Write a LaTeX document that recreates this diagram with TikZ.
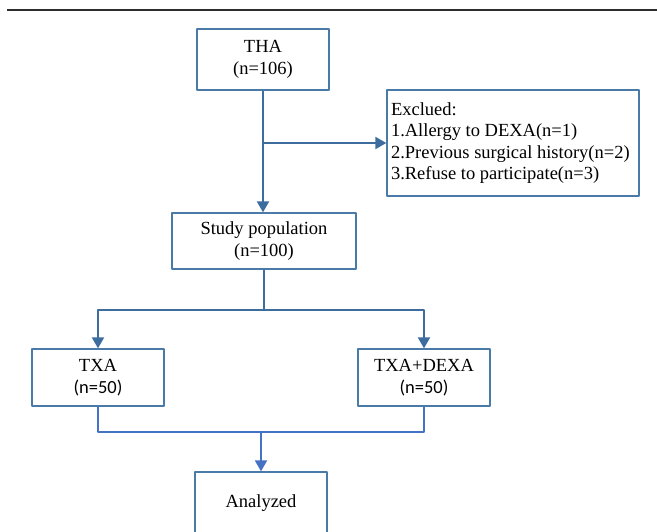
\documentclass[tikz,border=0pt]{standalone}
\usepackage{fontspec}
\setmainfont{Liberation Serif}
\newfontfamily\carl{Carlito}
\usetikzlibrary{arrows.meta,positioning,calc}
\definecolor{boxblue}{RGB}{74,122,168}
\definecolor{lineblue}{RGB}{61,109,158}
\definecolor{lowblue}{RGB}{68,114,196}
\definecolor{rulegray}{RGB}{45,45,45}

\begin{document}
\begin{tikzpicture}[x=1pt,y=-1pt,>={Triangle[width=12pt,length=11pt]},line join=bevel,
  font=\fontsize{18.5}{22}\selectfont,
  box/.style={draw=boxblue,line width=1.3pt,align=center,minimum width=132pt,minimum height=57pt,inner sep=0pt},
  link/.style={draw=lineblue,line width=2pt},
  low/.style={draw=lowblue,line width=2pt}]
\useasboundingbox (0,0) rectangle (657,531);
\draw [rulegray,line width=2.3pt] (7,10) -- (657,10);

\node [box,minimum height=61pt] at (263,59.5) (tha) {THA\\(n=106)};
\node [box,minimum width=252pt,minimum height=106pt,align=flush left,text width=244pt,inner sep=4pt,
  font=\fontsize{18.5}{21.5}\selectfont] at (513,143) (excl)
  {Exclued:\\1.Allergy to DEXA(n=1)\\2.Previous surgical history(n=2)\\3.Refuse to participate(n=3)};
\node [box,minimum width=184pt,minimum height=56pt] at (264,241) (pop) {Study population\\(n=100)};
\node [box] at (98,377.5) (txa) {TXA\\{\carl (n=50)}};
\node [box] at (424,377.5) (dexa) {TXA+DEXA\\{\carl (n=50)}};
\node [box,minimum height=62pt] at (261,503) (ana) {Analyzed};

% branches
\draw [link,->] (tha.south) -- (tha.south |- pop.north);
\draw [link,->] (tha.south |- excl.west) -- (excl.west);
\draw [link] (pop.south) -- ++(0,40) coordinate (j2);
\draw [link,->] (j2) -| (txa.north);
\draw [link,->] (j2) -| (dexa.north);

% merge
\coordinate (j3) at (261,432);
\draw [low] (txa.south) |- (j3) -| (dexa.south);
\draw [low,->] (j3) -- (ana.north);
\end{tikzpicture}
\end{document}
